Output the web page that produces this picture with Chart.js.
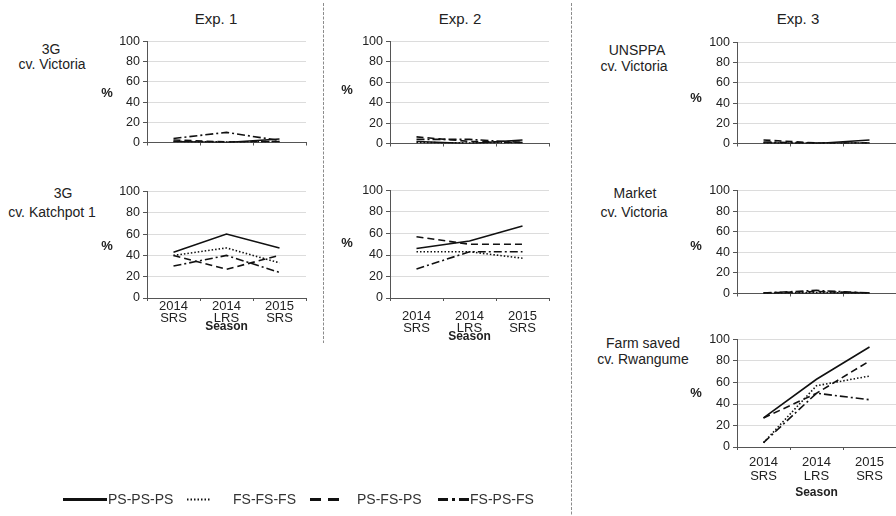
<!DOCTYPE html>
<html><head><meta charset="utf-8">
<script src="https://cdn.jsdelivr.net/npm/chart.js@4.4.1/dist/chart.umd.min.js"></script>
<style>
html,body{margin:0;padding:0;background:#fff;}
body{width:896px;height:516px;position:relative;overflow:hidden;font-family:"Liberation Sans",Arial,sans-serif;color:#222;}
canvas{position:absolute;}
.t{position:absolute;transform:translate(-50%,-50%);white-space:nowrap;line-height:1;}
.title{font-size:15px;}
.row{font-size:14px;}
.pct{font-size:13px;font-weight:bold;}
.leg{font-size:14px;color:#333;}
</style></head><body>
<svg width="896" height="516" style="position:absolute;left:0;top:0">
<line x1="323.5" y1="3" x2="323.5" y2="343" stroke="#8c8c8c" stroke-width="1" stroke-dasharray="3,1.5"/>
<line x1="571.5" y1="3" x2="571.5" y2="516" stroke="#8c8c8c" stroke-width="1" stroke-dasharray="3,1.5"/>
</svg>
<script>
// ---- data ----
const seasons = [['2014','SRS'],['2014','LRS'],['2015','SRS']];
const seriesNames = ['PS-PS-PS','FS-FS-FS','PS-FS-PS','FS-PS-FS'];
const yTicks = [0,20,40,60,80,100];

// Exp. 1 — 3G cv. Victoria
const e1Vic_PSPSPS = [1, 0, 3.5];
const e1Vic_FSFSFS = [1, 0.5, 1];
const e1Vic_PSFSPS = [2.5, 0.5, 1];
const e1Vic_FSPSFS = [4, 10, 2];
// Exp. 1 — 3G cv. Katchpot 1
const e1Kat_PSPSPS = [43, 60, 47];
const e1Kat_FSFSFS = [40, 47, 33];
const e1Kat_PSFSPS = [40, 27, 40];
const e1Kat_FSPSFS = [30, 40, 24];
// Exp. 2 — 3G cv. Victoria
const e2Vic_PSPSPS = [2, 0, 3.5];
const e2Vic_FSFSFS = [1, 0.5, 1];
const e2Vic_PSFSPS = [6.5, 2, 1];
const e2Vic_FSPSFS = [4, 4, 1];
// Exp. 2 — 3G cv. Katchpot 1
const e2Kat_PSPSPS = [46, 53, 67];
const e2Kat_FSFSFS = [43, 43, 37];
const e2Kat_PSFSPS = [57, 50, 50];
const e2Kat_FSPSFS = [27, 43, 43];
// Exp. 3 — UNSPPA cv. Victoria
const e3Uns_PSPSPS = [0.5, 0, 3.5];
const e3Uns_FSFSFS = [0.5, 0, 0.5];
const e3Uns_PSFSPS = [3.5, 0.5, 0.5];
const e3Uns_FSPSFS = [1.5, 0.5, 0.5];
// Exp. 3 — Market cv. Victoria
const e3Mkt_PSPSPS = [0, 0, 0.5];
const e3Mkt_FSFSFS = [0, 1, 0];
const e3Mkt_PSFSPS = [0.5, 2, 0.5];
const e3Mkt_FSPSFS = [0.5, 3, 0.5];
// Exp. 3 — Farm saved cv. Rwangume
const e3Farm_PSPSPS = [27, 63, 93];
const e3Farm_FSFSFS = [4, 57, 66];
const e3Farm_PSFSPS = [27, 50, 80];
const e3Farm_FSPSFS = [4, 50, 44];

// ---- styles / layout ----
const dashes = [[], [1.5, 2], [7, 4], [8, 3, 2, 3]];
const FONT = '"Liberation Sans", Arial, sans-serif';

const panels = [
  {ax:147, right:306, y100:39, y0:147, labels:false, xh:6, pr:2,
   series:[e1Vic_PSPSPS,e1Vic_FSFSFS,e1Vic_PSFSPS,e1Vic_FSPSFS]},
  {ax:147, right:306, y100:189, y0:298, labels:true, xh:36, tickPad:0, lineH:0.88, pr:2,
   series:[e1Kat_PSPSPS,e1Kat_FSFSFS,e1Kat_PSFSPS,e1Kat_FSPSFS]},
  {ax:390, right:549, y100:39, y0:148, labels:false, xh:6, pr:2,
   series:[e2Vic_PSPSPS,e2Vic_FSFSFS,e2Vic_PSFSPS,e2Vic_FSPSFS]},
  {ax:390, right:549, y100:188, y0:298, labels:true, xh:46, tickPad:10, lineH:0.88, pr:2,
   series:[e2Kat_PSPSPS,e2Kat_FSFSFS,e2Kat_PSFSPS,e2Kat_FSPSFS]},
  {ax:737, right:896, y100:40, y0:148, labels:false, xh:6, pr:0,
   series:[e3Uns_PSPSPS,e3Uns_FSFSFS,e3Uns_PSFSPS,e3Uns_FSPSFS]},
  {ax:737, right:896, y100:188, y0:298, labels:false, xh:6, pr:0,
   series:[e3Mkt_PSPSPS,e3Mkt_FSFSFS,e3Mkt_PSFSPS,e3Mkt_FSPSFS]},
  {ax:737, right:896, y100:337, y0:447, labels:true, xh:53, tickPad:5, lineH:1.08, pr:0,
   series:[e3Farm_PSPSPS,e3Farm_FSFSFS,e3Farm_PSFSPS,e3Farm_FSPSFS]}
];

function makePanel(p){
  const YW = 40, PT = 8, PR = p.pr;
  const w = (p.right - p.ax) + YW + PR;
  const h = PT + (p.y0 - p.y100) + p.xh;
  const c = document.createElement('canvas');
  c.width = w; c.height = h;
  c.style.left = (p.ax - YW) + 'px'; c.style.top = (p.y100 - PT) + 'px';
  c.style.width = w + 'px'; c.style.height = h + 'px';
  document.body.appendChild(c);
  new Chart(c, {
    type: 'line',
    data: {
      labels: seasons,
      datasets: p.series.map((d, i) => ({
        label: seriesNames[i], data: d, borderColor: '#111', backgroundColor: '#111',
        borderWidth: 1.6, borderDash: dashes[i], pointRadius: 0, tension: 0, fill: false
      }))
    },
    options: {
      responsive: false, animation: false, devicePixelRatio: 1,
      layout: {padding: {top: PT, right: PR, left: 0, bottom: 0}},
      plugins: {legend: {display: false}, tooltip: {enabled: false}},
      scales: {
        x: {
          offset: true,
          grid: {offset: true, drawOnChartArea: false, drawTicks: true, tickLength: 3, tickColor: '#555'},
          border: {color: '#555', width: 1},
          ticks: {display: p.labels, padding: p.tickPad || 0, maxRotation: 0, minRotation: 0, autoSkip: false,
                  color: '#222', font: {family: FONT, size: 13, lineHeight: p.lineH || 1.2}},
          title: {display: p.labels, text: 'Season', color: '#222', padding: 0,
                  font: {family: FONT, size: 12, weight: 'bold', lineHeight: 1.2}},
          afterFit: s => { s.height = p.xh; }
        },
        y: {
          min: 0, max: 100,
          afterBuildTicks: s => { s.ticks = yTicks.map(v => ({value: v})); },
          ticks: {padding: 3, color: '#222', font: {family: FONT, size: 12.5}},
          grid: {color: '#dcdcdc', tickLength: 4, tickColor: '#555'},
          border: {color: '#555', width: 1},
          afterFit: s => { s.width = YW; }
        }
      }
    }
  });
}
panels.forEach(makePanel);

// ---- text labels ----
function addText(txt, x, y, cls){
  const d = document.createElement('div');
  d.className = 't ' + cls; d.textContent = txt;
  d.style.left = x + 'px'; d.style.top = y + 'px';
  document.body.appendChild(d);
}
addText('Exp. 1', 216, 18, 'title');
addText('Exp. 2', 460, 18, 'title');
addText('Exp. 3', 798, 18, 'title');
addText('3G', 51, 49, 'row'); addText('cv. Victoria', 52, 64, 'row');
addText('3G', 63, 193, 'row'); addText('cv. Katchpot 1', 52, 212, 'row');
addText('UNSPPA', 637, 50, 'row'); addText('cv. Victoria', 634, 66, 'row');
addText('Market', 635, 193, 'row'); addText('cv. Victoria', 634, 212, 'row');
addText('Farm saved', 643, 343, 'row'); addText('cv. Rwangume', 643, 359, 'row');
[[107,92],[107,245],[347,89],[347,242],[696,97],[696,245],[696,392]].forEach(a => addText('%', a[0], a[1], 'pct'));

// ---- legend ----
const legSvg = document.createElementNS('http://www.w3.org/2000/svg','svg');
legSvg.setAttribute('width','896'); legSvg.setAttribute('height','516');
legSvg.style.position = 'absolute'; legSvg.style.left = '0'; legSvg.style.top = '0';
document.body.appendChild(legSvg);
const legLines = [
  {x1:63, x2:107, w:3, dash:'none', tx:108},
  {x1:187, x2:211, w:2, dash:'1.5,2', tx:233},
  {x1:310, x2:339, w:3, dash:'11,7', tx:357},
  {x1:438, x2:470, w:3, dash:'10,4,3,4,10', tx:470}
];
legLines.forEach((l, i) => {
  const ln = document.createElementNS('http://www.w3.org/2000/svg','line');
  ln.setAttribute('x1', l.x1); ln.setAttribute('x2', l.x2);
  ln.setAttribute('y1', 499.5); ln.setAttribute('y2', 499.5);
  ln.setAttribute('stroke', '#111'); ln.setAttribute('stroke-width', l.w);
  if (l.dash !== 'none') ln.setAttribute('stroke-dasharray', l.dash);
  legSvg.appendChild(ln);
  const d = document.createElement('div');
  d.className = 'leg'; d.textContent = seriesNames[i];
  d.style.position = 'absolute'; d.style.left = l.tx + 'px'; d.style.top = '491px'; d.style.lineHeight = '16px';
  document.body.appendChild(d);
});
</script>
</body></html>
